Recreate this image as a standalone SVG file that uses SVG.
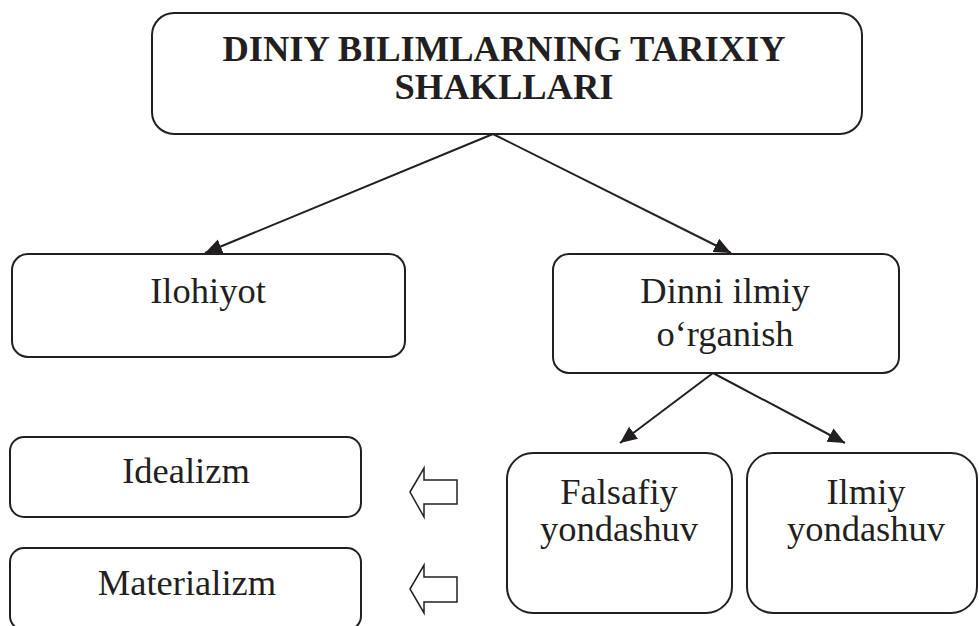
<svg xmlns="http://www.w3.org/2000/svg" width="979" height="626" viewBox="0 0 979 626">
<defs>
<style>
.box{fill:#fff;stroke:#231f20;stroke-width:2}
.t{font-family:"Liberation Serif","Times New Roman",serif;font-size:36.5px;fill:#231f20;text-anchor:middle}
.b{font-weight:bold}
.c{stroke:#231f20;stroke-width:2;fill:none;marker-end:url(#ah)}
.blk{fill:#fff;stroke:#231f20;stroke-width:1.5;stroke-linejoin:miter}
</style>
<marker id="ah" markerUnits="userSpaceOnUse" markerWidth="18" markerHeight="16" refX="17" refY="7.5" orient="auto">
<path d="M0,0 L17,7.5 L0,15 z" fill="#231f20"/>
</marker>
</defs>
<rect width="979" height="626" fill="#fff"/>
<g id="connectors">
<line class="c" x1="493" y1="134" x2="205" y2="253"/>
<line class="c" x1="493" y1="134" x2="731" y2="253"/>
<line class="c" x1="713" y1="373" x2="620" y2="443"/>
<line class="c" x1="713" y1="373" x2="845" y2="443"/>
<polygon class="blk" points="410,492 424,468 424,480 457,480 457,504 424,504 424,517"/>
<polygon class="blk" points="410,589 424,565 424,577 457,577 457,602 424,602 424,613"/>
</g>
<g id="top">
<rect class="box" x="152" y="13" width="710" height="121" rx="22"/>
<text class="t b" x="504" y="61">DINIY BILIMLARNING TARIXIY</text>
<text class="t b" x="504" y="99">SHAKLLARI</text>
</g>
<g id="ilohiyot">
<rect class="box" x="12" y="254" width="393" height="103" rx="16"/>
<text class="t" x="208" y="303">Ilohiyot</text>
</g>
<g id="dinni">
<rect class="box" x="553" y="254" width="346" height="119" rx="16"/>
<text class="t" x="725" y="303">Dinni ilmiy</text>
<text class="t" x="725" y="346">o‘rganish</text>
</g>
<g id="falsafiy">
<rect class="box" x="507" y="453" width="225" height="160" rx="26"/>
<text class="t" x="619" y="504">Falsafiy</text>
<text class="t" x="619" y="541">yondashuv</text>
</g>
<g id="ilmiy">
<rect class="box" x="747" y="453" width="230" height="160" rx="26"/>
<text class="t" x="866" y="504">Ilmiy</text>
<text class="t" x="866" y="541">yondashuv</text>
</g>
<g id="idealizm">
<rect class="box" x="10" y="437" width="351" height="80" rx="14"/>
<text class="t" x="186" y="483">Idealizm</text>
</g>
<g id="materializm">
<rect class="box" x="10" y="548" width="351" height="82" rx="14"/>
<text class="t" x="187" y="595">Materializm</text>
</g>
</svg>
